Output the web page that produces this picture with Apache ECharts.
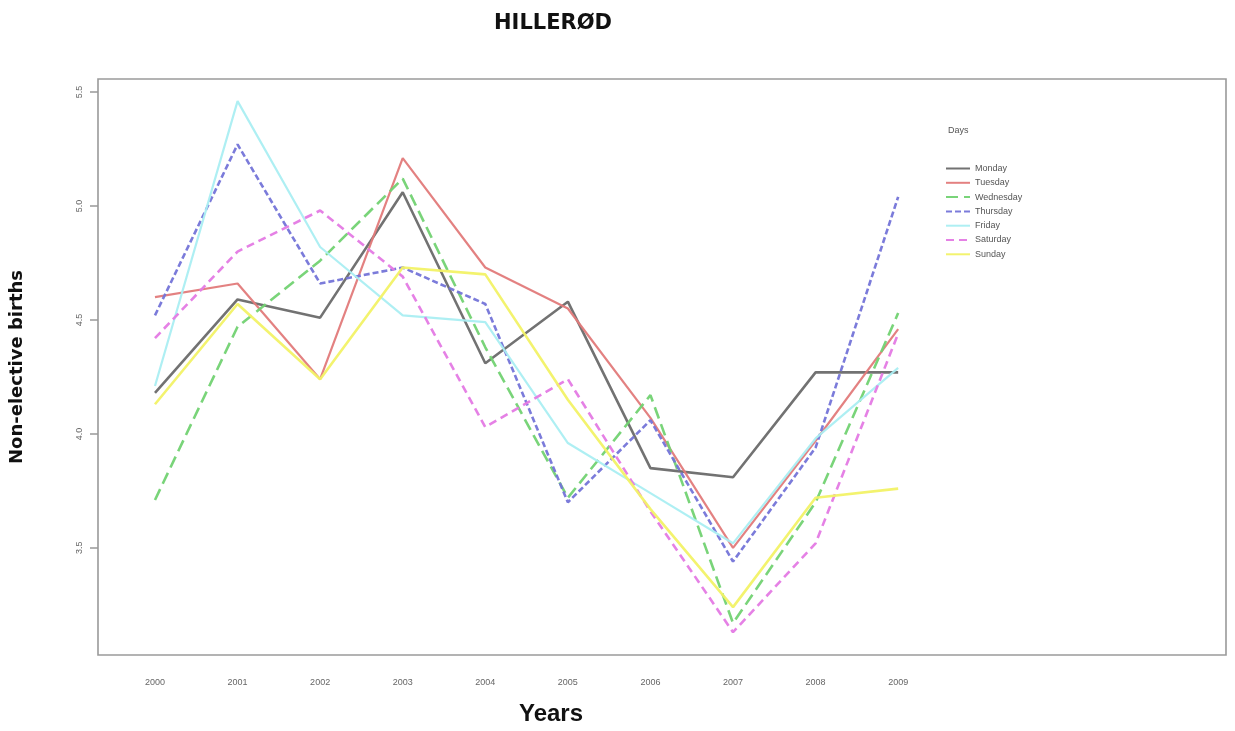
<!DOCTYPE html>
<html>
<head>
<meta charset="utf-8">
<script src="https://cdn.jsdelivr.net/npm/echarts@6/dist/echarts.min.js"></script>
<style>html,body{margin:0;padding:0;background:#fff;}#c{width:1235px;height:731px;}</style>
</head>
<body>
<div id="c"></div>
<script>
const years = [2000, 2001, 2002, 2003, 2004, 2005, 2006, 2007, 2008, 2009];
const yTicks = [3.5, 4.0, 4.5, 5.0, 5.5];
const dayNames = ['Monday', 'Tuesday', 'Wednesday', 'Thursday', 'Friday', 'Saturday', 'Sunday'];
const monday    = [4.18, 4.59, 4.51, 5.06, 4.31, 4.58, 3.85, 3.81, 4.27, 4.27];
const tuesday   = [4.60, 4.66, 4.24, 5.21, 4.73, 4.55, 4.07, 3.50, 3.97, 4.46];
const wednesday = [3.71, 4.47, 4.76, 5.12, 4.38, 3.72, 4.17, 3.17, 3.70, 4.53];
const thursday  = [4.52, 5.27, 4.66, 4.73, 4.57, 3.70, 4.06, 3.44, 3.94, 5.04];
const friday    = [4.21, 5.46, 4.82, 4.52, 4.49, 3.96, 3.74, 3.52, 3.98, 4.29];
const saturday  = [4.42, 4.80, 4.98, 4.69, 4.03, 4.24, 3.66, 3.13, 3.52, 4.44];
const sunday    = [4.13, 4.57, 4.24, 4.73, 4.70, 4.15, 3.67, 3.24, 3.72, 3.76];

const values = [monday, tuesday, wednesday, thursday, friday, saturday, sunday];
const styles = [
  {color: '#6a6a6a', width: 2.6, type: 'solid'},
  {color: '#e27a7a', width: 2.2, type: 'solid'},
  {color: '#72d272', width: 2.6, type: [12, 6]},
  {color: '#7474d8', width: 2.6, type: [6, 3]},
  {color: '#aaeef2', width: 2.2, type: 'solid'},
  {color: '#e47ae4', width: 2.6, type: [8, 5]},
  {color: '#f2f266', width: 2.6, type: 'solid'}
];

const series = dayNames.map((name, i) => ({
  name: name,
  type: 'line',
  symbol: 'none',
  showSymbol: false,
  silent: true,
  color: styles[i].color,
  lineStyle: {color: styles[i].color, width: styles[i].width, type: styles[i].type, opacity: 0.95},
  data: years.map((y, j) => [y, values[i][j]])
}));

const chart = echarts.init(document.getElementById('c'), null, {renderer: 'canvas'});
chart.setOption({
  backgroundColor: '#ffffff',
  animation: false,
  title: [
    {text: 'HILLERØD', left: 548, top: 8, textAlign: 'center',
     textStyle: {fontFamily: 'DejaVu Sans', fontWeight: 'bold', fontSize: 21, color: '#111'}},
    {text: 'Days', left: 943, top: 121,
     textStyle: {fontFamily: 'Liberation Sans', fontWeight: 'normal', fontSize: 9, color: '#555'}},
    {text: 'Years', left: 546, top: 697, textAlign: 'center',
     textStyle: {fontFamily: 'Liberation Sans', fontWeight: 'bold', fontSize: 24, color: '#111'}}
  ],
  legend: {
    data: dayNames,
    orient: 'vertical',
    left: 945,
    top: 164,
    padding: 0,
    itemWidth: 24,
    itemHeight: 10,
    itemGap: 5.3,
    selectedMode: false,
    itemStyle: {opacity: 0},
    textStyle: {fontFamily: 'Liberation Sans', fontSize: 9, color: '#555'}
  },
  grid: {
    left: 98, right: 9, top: 79, bottom: 76,
    outerBoundsMode: 'none',
    containLabel: false,
    show: true, borderColor: '#9a9a9a', borderWidth: 1.6, backgroundColor: '#fff'
  },
  xAxis: {
    type: 'value',
    min: 1999.31,
    max: 2012.97,
    axisLine: {show: false},
    axisTick: {show: false},
    splitLine: {show: false},
    axisLabel: {
      customValues: years,
      margin: 23,
      fontFamily: 'Liberation Sans', fontSize: 9, color: '#666',
      formatter: v => String(v)
    }
  },
  yAxis: {
    type: 'value',
    min: 3.03,
    max: 5.557,
    name: 'Non-elective births',
    nameLocation: 'middle',
    nameRotate: 90,
    nameGap: 72,
    nameTextStyle: {fontFamily: 'DejaVu Sans', fontWeight: 'bold', fontSize: 18, color: '#111'},
    axisLine: {show: false},
    axisTick: {show: true, customValues: yTicks, length: 8, lineStyle: {color: '#999', width: 1.5}},
    splitLine: {show: false},
    axisLabel: {
      customValues: yTicks,
      rotate: 90,
      margin: 14,
      fontFamily: 'Liberation Sans', fontSize: 9, color: '#666',
      formatter: v => v.toFixed(1)
    }
  },
  series: series
});
</script>
</body>
</html>
